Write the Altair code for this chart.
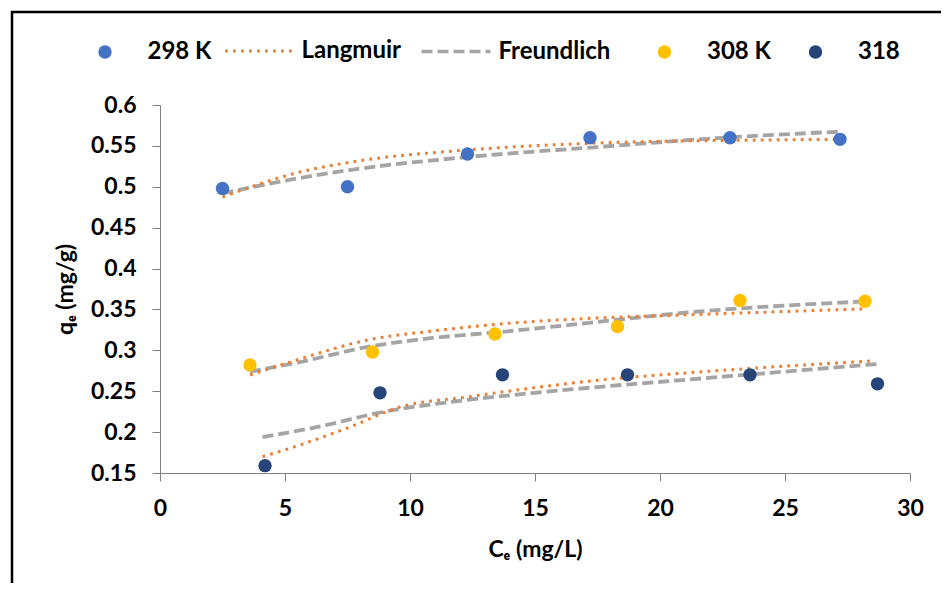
import altair as alt
import pandas as pd

# ---- data ----
ce_298 = [2.5, 7.5, 12.3, 17.2, 22.8, 27.2]
qe_298 = [0.498, 0.500, 0.540, 0.560, 0.560, 0.558]
ce_308 = [3.6, 8.5, 13.4, 18.3, 23.2, 28.2]
qe_308 = [0.282, 0.298, 0.320, 0.329, 0.361, 0.360]
ce_318 = [4.2, 8.8, 13.7, 18.7, 23.6, 28.7]
qe_318 = [0.159, 0.248, 0.270, 0.270, 0.270, 0.259]

# fitted curves
lang_298_x = [2.5, 5.6, 7.6, 12.3, 17.5, 23.6, 27.2]
lang_298_y = [0.4875, 0.518, 0.530, 0.545, 0.5535, 0.557, 0.558]
freu_298_x = [2.5, 5.6, 7.6, 12.3, 17.5, 22.3, 27.2]
freu_298_y = [0.492, 0.5107, 0.5205, 0.5364, 0.5486, 0.5596, 0.5674]

lang_308_x = [3.6, 5.6, 8.3, 10.9, 13.6, 17.5, 20.9, 28.1]
lang_308_y = [0.2698, 0.2894, 0.3126, 0.3236, 0.3322, 0.3395, 0.3432, 0.3506]
freu_308_x = [3.6, 5.6, 8.3, 10.9, 13.6, 17.5, 20.9, 28.0]
freu_308_y = [0.274, 0.2857, 0.3041, 0.3151, 0.3224, 0.3347, 0.3457, 0.3595]

lang_318_x = [4.1, 5.6, 7.6, 9.6, 12.3, 14.9, 17.5, 20.9, 28.5]
lang_318_y = [0.170, 0.1843, 0.2063, 0.2307, 0.243, 0.254, 0.2634, 0.272, 0.287]
freu_318_x = [4.1, 6.3, 8.9, 12.3, 14.9, 17.5, 20.9, 28.7]
freu_318_y = [0.194, 0.2063, 0.2246, 0.2393, 0.2478, 0.2551, 0.2637, 0.2833]

x_ticks = [0, 5, 10, 15, 20, 25, 30]
y_ticks = [0.15, 0.2, 0.25, 0.3, 0.35, 0.4, 0.45, 0.5, 0.55, 0.6]

# ---- tables ----
pts_a = pd.DataFrame({"Ce": ce_298, "qe": qe_298, "series": "298 K"})
pts_b = pd.concat([
    pd.DataFrame({"Ce": ce_308, "qe": qe_308, "series": "308 K"}),
    pd.DataFrame({"Ce": ce_318, "qe": qe_318, "series": "318"}),
])
lang_df = pd.concat([
    pd.DataFrame({"Ce": lang_298_x, "qe": lang_298_y, "model": "Langmuir", "temp": "298"}),
    pd.DataFrame({"Ce": lang_308_x, "qe": lang_308_y, "model": "Langmuir", "temp": "308"}),
    pd.DataFrame({"Ce": lang_318_x, "qe": lang_318_y, "model": "Langmuir", "temp": "318"}),
])
freu_df = pd.concat([
    pd.DataFrame({"Ce": freu_298_x, "qe": freu_298_y, "model": "Freundlich", "temp": "298"}),
    pd.DataFrame({"Ce": freu_308_x, "qe": freu_308_y, "model": "Freundlich", "temp": "308"}),
    pd.DataFrame({"Ce": freu_318_x, "qe": freu_318_y, "model": "Freundlich", "temp": "318"}),
])

FONT = "Lato"
W, H = 750, 368
ORANGE, GRAY = "#ED7D31", "#A5A5A5"
LANG_DASH, FREU_DASH = [2.8, 5.2], [11, 5]

common_leg = dict(title=None, orient="none", direction="horizontal", padding=0,
                  labelFont=FONT, labelFontSize=24, labelFontWeight="bold",
                  labelColor="black")

x_enc = alt.X("Ce:Q", scale=alt.Scale(domain=[0, 30], nice=False),
              axis=alt.Axis(values=x_ticks, title="Cₑ (mg/L)", titleY=76, titleBaseline="middle",
                            labelFlush=False))
y_enc = alt.Y("qe:Q", scale=alt.Scale(domain=[0.15, 0.6], nice=False, zero=False),
              axis=alt.Axis(values=y_ticks, format=".2~f", title="qₑ (mg/g)",
                            titleX=-95, titleY=H / 2, titleAngle=-90, titleBaseline="middle",
                            labelFlush=False))

lang = alt.Chart(lang_df).mark_line(interpolate="monotone", strokeDash=LANG_DASH, strokeWidth=3).encode(
    x=x_enc, y=y_enc, detail="temp:N",
    stroke=alt.Stroke("model:N", scale=alt.Scale(domain=["Langmuir"], range=[ORANGE]),
                      legend=alt.Legend(symbolType="stroke", symbolSize=4761, symbolStrokeWidth=3,
                                        symbolDash=LANG_DASH, labelOffset=6,
                                        legendX=63.5, legendY=-90, **common_leg)),
)
freu = alt.Chart(freu_df).mark_line(interpolate="monotone", stroke=GRAY, strokeWidth=3.8).encode(
    x=x_enc, y=y_enc, detail="temp:N",
    strokeDash=alt.StrokeDash("model:N", scale=alt.Scale(domain=["Freundlich"], range=[FREU_DASH]),
                              legend=alt.Legend(symbolType="stroke", symbolSize=4761, symbolStrokeWidth=3.5,
                                                symbolStrokeColor=GRAY, labelOffset=6,
                                                legendX=259.5, legendY=-90, **common_leg)),
)

points_a = alt.Chart(pts_a).mark_point(filled=True, size=180, opacity=1, strokeWidth=0).encode(
    x=x_enc, y=y_enc,
    fill=alt.Fill("series:N", scale=alt.Scale(domain=["298 K"], range=["#4472C4"]),
                  legend=alt.Legend(symbolType="circle", symbolSize=180, symbolStrokeWidth=0,
                                    labelOffset=30.5, legendX=-67, legendY=-65, **common_leg)),
)
points_b = alt.Chart(pts_b).mark_point(filled=True, size=180, opacity=1, strokeWidth=0).encode(
    x=x_enc, y=y_enc,
    color=alt.Color("series:N", scale=alt.Scale(domain=["308 K", "318"], range=["#FFC000", "#264478"]),
                    legend=alt.Legend(symbolType="circle", symbolSize=180, symbolStrokeWidth=0,
                                      labelOffset=30.5, columnPadding=32, legendX=492.5, legendY=-65,
                                      **common_leg)),
)

frame = alt.Chart(pd.DataFrame({"a": [0]})).mark_rect(
    filled=False, stroke="black", strokeWidth=2.5).encode(
    x=alt.value(-148), x2=alt.value(1200), y=alt.value(-93), y2=alt.value(800))

chart = alt.layer(frame, freu, lang, points_a, points_b).resolve_scale(
    color="independent", fill="independent", stroke="independent", strokeDash="independent"
).properties(
    width=W, height=H,
    padding={"left": 152, "top": 97, "right": 31, "bottom": 110},
    autosize=alt.AutoSizeParams(type="none"),
).configure_view(stroke=None).configure_axis(
    grid=False, domainColor="#808080", tickColor="#808080", tickSize=8,
    labelFont=FONT, labelFontSize=23, labelFontWeight="bold", labelColor="black",
    labelPadding=16, titleFont=FONT, titleFontSize=23, titleFontWeight="bold", titleColor="black",
    domainWidth=1, tickWidth=1,
)

chart.save("out.html", embed_options={"renderer": "svg", "actions": False})
